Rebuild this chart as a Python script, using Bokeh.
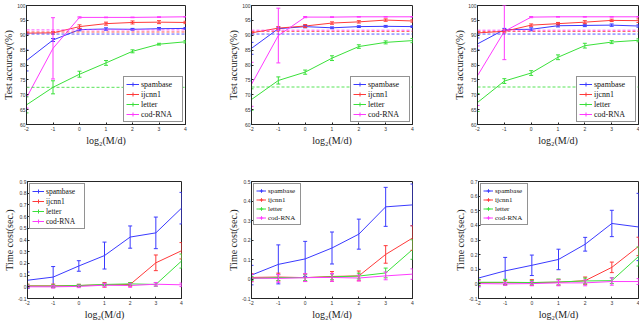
from bokeh.plotting import figure
from bokeh.layouts import column, row
from bokeh.models import (ColumnDataSource, Whisker, TeeHead, Span, Legend,
                          LegendItem, FixedTicker, Range1d)
from bokeh.embed import file_html
from bokeh.resources import INLINE

# ---------------- data ----------------
x_vals = [-2, -1, 0, 1, 2, 3, 4]
x_tick_labels = ["-2", "-1", "0", "1", "2", "3", "4"]
series_names = ["spambase", "ijcnn1", "letter", "cod-RNA"]
series_colors = ["#3a3aff", "#ff3a3a", "#3ae03a", "#ff3aff"]

acc_ticks = [60, 65, 70, 75, 80, 85, 90, 95, 100]
acc_tick_labels = ["60", "65", "70", "75", "80", "85", "90", "95", "100"]

# Panel A (accuracy)
accA_spambase = [81.5, 88.4, 91.9, 92.1, 92.0, 92.2, 92.3]
accA_spambase_err = [3.5, 0.5, 0.4, 0.4, 0.3, 0.4, 0.3]
accA_ijcnn1 = [90.7, 90.8, 92.9, 93.9, 94.3, 94.4, 94.3]
accA_ijcnn1_err = [0.3, 0.4, 0.6, 0.5, 0.5, 0.5, 0.4]
accA_letter = [66.6, 72.5, 76.9, 80.7, 84.6, 87.0, 87.8]
accA_letter_err = [2.7, 2.2, 1.0, 0.8, 0.5, 0.3, 0.4]
accA_codrna = [69.0, 85.6, 96.0, 96.0, 96.0, 96.1, 96.2]
accA_codrna_err = [3.5, 10.3, 0.2, 0.1, 0.1, 0.1, 0.1]
accA_baseline = [90.4, 91.1, 72.5, 91.8]

# Panel B (accuracy)
accB_spambase = [85.6, 92.2, 92.9, 92.5, 92.9, 93.0, 92.9]
accB_spambase_err = [2.0, 0.5, 0.4, 0.3, 0.3, 0.3, 0.3]
accB_ijcnn1 = [90.8, 92.4, 93.1, 94.1, 94.5, 95.1, 94.8]
accB_ijcnn1_err = [0.3, 0.5, 0.5, 0.4, 0.4, 0.4, 0.4]
accB_letter = [68.4, 74.8, 77.6, 82.3, 86.2, 87.6, 88.2]
accB_letter_err = [3.6, 1.2, 0.7, 0.8, 0.6, 0.5, 0.7]
accB_codrna = [73.5, 89.9, 96.1, 96.1, 96.2, 96.2, 96.2]
accB_codrna_err = [7.4, 9.2, 0.2, 0.1, 0.1, 0.1, 0.1]
accB_baseline = [90.4, 91.3, 72.6, 91.7]

# Panel C (accuracy)
accC_spambase = [87.1, 91.9, 92.0, 93.2, 93.3, 93.4, 93.1]
accC_spambase_err = [2.0, 0.4, 0.5, 0.4, 0.4, 0.4, 0.4]
accC_ijcnn1 = [90.8, 91.3, 93.4, 93.9, 94.4, 95.0, 94.9]
accC_ijcnn1_err = [0.3, 0.5, 0.4, 0.4, 0.5, 0.4, 0.6]
accC_letter = [67.4, 74.6, 77.3, 82.6, 86.5, 87.7, 88.3]
accC_letter_err = [3.0, 0.8, 0.8, 0.8, 0.8, 0.5, 0.5]
accC_codrna = [76.4, 91.3, 96.1, 96.2, 96.2, 96.2, 96.2]
accC_codrna_err = [10.0, 9.5, 0.2, 0.1, 0.1, 0.1, 0.1]
accC_baseline = [90.4, 91.3, 72.6, 91.7]

# Panel D (time)
timeA_ticks = [-0.1, 0, 0.1, 0.2, 0.3, 0.4, 0.5, 0.6, 0.7, 0.8, 0.9]
timeA_tick_labels = ["-0.1", "0", "0.1", "0.2", "0.3", "0.4", "0.5", "0.6", "0.7", "0.8", "0.9"]
timeA_spambase = [0.056, 0.083, 0.178, 0.267, 0.425, 0.461, 0.672]
timeA_spambase_err = [0.07, 0.09, 0.045, 0.115, 0.095, 0.135, 0.135]
timeA_ijcnn1 = [0.008, 0.008, 0.011, 0.017, 0.020, 0.205, 0.308]
timeA_ijcnn1_err = [0.015, 0.015, 0.010, 0.020, 0.015, 0.067, 0.070]
timeA_letter = [0.006, 0.006, 0.011, 0.020, 0.025, 0.020, 0.220]
timeA_letter_err = [0.010, 0.010, 0.010, 0.010, 0.010, 0.015, 0.060]
timeA_codrna = [0.000, 0.000, 0.003, 0.014, 0.011, 0.022, 0.017]
timeA_codrna_err = [0.010, 0.010, 0.010, 0.015, 0.015, 0.015, 0.015]

# Panel E (time)
timeB_ticks = [-0.1, 0, 0.1, 0.2, 0.3, 0.4, 0.5]
timeB_tick_labels = ["-0.1", "0", "0.1", "0.2", "0.3", "0.4", "0.5"]
timeB_spambase = [0.020, 0.075, 0.103, 0.159, 0.230, 0.370, 0.380]
timeB_spambase_err = [0.050, 0.100, 0.090, 0.082, 0.077, 0.100, 0.107]
timeB_ijcnn1 = [0.008, 0.010, 0.007, 0.013, 0.016, 0.126, 0.210]
timeB_ijcnn1_err = [0.020, 0.020, 0.020, 0.025, 0.025, 0.045, 0.063]
timeB_letter = [0.003, 0.007, 0.007, 0.011, 0.015, 0.031, 0.151]
timeB_letter_err = [0.010, 0.015, 0.015, 0.015, 0.015, 0.025, 0.050]
timeB_codrna = [0.005, 0.003, 0.007, 0.008, 0.005, 0.016, 0.025]
timeB_codrna_err = [0.020, 0.020, 0.020, 0.020, 0.015, 0.020, 0.027]

# Panel F (time)
timeC_ticks = [-0.1, 0, 0.1, 0.2, 0.3, 0.4, 0.5, 0.6, 0.7]
timeC_tick_labels = ["-0.1", "0", "0.1", "0.2", "0.3", "0.4", "0.5", "0.6", "0.7"]
timeC_spambase = [0.040, 0.089, 0.127, 0.167, 0.271, 0.413, 0.389]
timeC_spambase_err = [0.060, 0.092, 0.070, 0.070, 0.047, 0.090, 0.230]
timeC_ijcnn1 = [0.009, 0.009, 0.009, 0.011, 0.022, 0.113, 0.256]
timeC_ijcnn1_err = [0.020, 0.015, 0.020, 0.020, 0.025, 0.036, 0.063]
timeC_letter = [0.011, 0.011, 0.009, 0.013, 0.020, 0.022, 0.187]
timeC_letter_err = [0.020, 0.020, 0.015, 0.020, 0.020, 0.020, 0.065]
timeC_codrna = [0.002, 0.000, 0.002, 0.007, 0.007, 0.016, 0.016]
timeC_codrna_err = [0.020, 0.010, 0.015, 0.020, 0.020, 0.025, 0.020]

SERIF = "Liberation Serif"
SANS = "Liberation Sans"


def make_panel(means, errs, baselines, yticks, ytick_labels, ylabel,
               legend_loc, width, height, bl, br, bt, bb, leg):
    y0, y1 = yticks[0], yticks[-1]
    p = figure(width=width, height=height, output_backend="svg",
               toolbar_location=None, x_range=Range1d(-2, 4),
               y_range=Range1d(y0, y1),
               min_border_left=bl, min_border_right=br,
               min_border_top=bt, min_border_bottom=bb)
    p.background_fill_color = "white"
    p.border_fill_color = "white"
    p.outline_line_color = "#262626"
    p.outline_line_width = 1
    p.xgrid.visible = False
    p.ygrid.visible = False

    for ax, ticks, labels in ((p.xaxis[0], x_vals, x_tick_labels),
                              (p.yaxis[0], yticks, ytick_labels)):
        ax.ticker = FixedTicker(ticks=ticks)
        ax.major_label_overrides = {t: l for t, l in zip(ticks, labels)}
        ax.major_tick_in = 2
        ax.major_tick_out = 0
        ax.minor_tick_line_color = None
        ax.axis_line_color = "#262626"
        ax.major_tick_line_color = "#262626"
        ax.major_label_text_font = SANS
        ax.major_label_text_font_size = "5px"
        ax.major_label_text_color = "#333333"
        ax.axis_label_text_font = SERIF
        ax.axis_label_text_font_style = "normal"
        ax.axis_label_text_color = "#222222"
        ax.axis_label_text_font_size = "10px"
    p.xaxis[0].axis_label = "log\u2082(M/d)"
    p.xaxis[0].major_label_standoff = 2
    p.xaxis[0].axis_label_standoff = 1
    p.yaxis[0].axis_label = ylabel
    p.yaxis[0].major_label_standoff = 1
    p.yaxis[0].axis_label_standoff = 0

    if baselines is not None:
        for b, c in zip(baselines, series_colors):
            p.add_layout(Span(location=b, dimension="width", line_color=c,
                              line_dash="3 2", line_width=1, line_alpha=0.85))

    items = []
    for name, c, m, e in zip(series_names, series_colors, means, errs):
        up = [min(a + d, y1) for a, d in zip(m, e)]
        lo = [max(a - d, y0) for a, d in zip(m, e)]
        src = ColumnDataSource(dict(x=x_vals, y=m, upper=up, lower=lo))
        lr = p.line("x", "y", source=src, line_color=c, line_width=1)
        p.add_layout(Whisker(source=src, base="x", upper="upper", lower="lower",
                             line_color=c, line_width=1, level="glyph",
                             upper_head=TeeHead(size=4, line_color=c, line_width=1),
                             lower_head=TeeHead(size=4, line_color=c, line_width=1)))
        # zero-size markers: invisible on the plot, give the legend its
        # error-bar style cross icon
        mr = p.scatter("x", "y", source=src, marker="cross", size=0,
                       line_color=c, line_width=1)
        items.append(LegendItem(label=name, renderers=[lr, mr]))

    font_px, glyph_w, row_h, lab_w = leg
    legend = Legend(items=items, location=legend_loc, margin=2, padding=2,
                    spacing=0, glyph_width=glyph_w, glyph_height=row_h,
                    label_height=row_h, label_width=lab_w, label_standoff=2,
                    label_text_font=SERIF, label_text_font_size=font_px,
                    label_text_color="#111111",
                    border_line_color="#262626", border_line_width=1,
                    background_fill_color="white", background_fill_alpha=1)
    p.add_layout(legend)
    return p


pA = make_panel([accA_spambase, accA_ijcnn1, accA_letter, accA_codrna],
                [accA_spambase_err, accA_ijcnn1_err, accA_letter_err, accA_codrna_err],
                accA_baseline, acc_ticks, acc_tick_labels, "Test accuracy(%)",
                "bottom_right", 223, 148, 21, 38, 2, 24, ("8px", 13, 10, 39))
pB = make_panel([accB_spambase, accB_ijcnn1, accB_letter, accB_codrna],
                [accB_spambase_err, accB_ijcnn1_err, accB_letter_err, accB_codrna_err],
                accB_baseline, acc_ticks, acc_tick_labels, "Test accuracy(%)",
                "bottom_right", 228, 148, 28, 39, 5, 24, ("8px", 13, 10, 39))
pC = make_panel([accC_spambase, accC_ijcnn1, accC_letter, accC_codrna],
                [accC_spambase_err, accC_ijcnn1_err, accC_letter_err, accC_codrna_err],
                accC_baseline, acc_ticks, acc_tick_labels, "Test accuracy(%)",
                "bottom_right", 188, 148, 26, 1, 5, 24, ("8px", 13, 10, 39))

pD = make_panel([timeA_spambase, timeA_ijcnn1, timeA_letter, timeA_codrna],
                [timeA_spambase_err, timeA_ijcnn1_err, timeA_letter_err, timeA_codrna_err],
                None, timeA_ticks, timeA_tick_labels, "Time cost(sec.)",
                "top_left", 223, 174, 21, 42, 33, 21, ("7.5px", 12, 10, 36))
pE = make_panel([timeB_spambase, timeB_ijcnn1, timeB_letter, timeB_codrna],
                [timeB_spambase_err, timeB_ijcnn1_err, timeB_letter_err, timeB_codrna_err],
                None, timeB_ticks, timeB_tick_labels, "Time cost(sec.)",
                "top_left", 228, 174, 28, 39, 31, 21, ("7px", 10, 9, 30))
pF = make_panel([timeC_spambase, timeC_ijcnn1, timeC_letter, timeC_codrna],
                [timeC_spambase_err, timeC_ijcnn1_err, timeC_letter_err, timeC_codrna_err],
                None, timeC_ticks, timeC_tick_labels, "Time cost(sec.)",
                "top_left", 188, 174, 26, 1, 33, 21, ("7px", 10, 9, 30))

layout = column(row(pA, pB, pC), row(pD, pE, pF))

with open("out.html", "w") as f:
    f.write(file_html(layout, INLINE))
